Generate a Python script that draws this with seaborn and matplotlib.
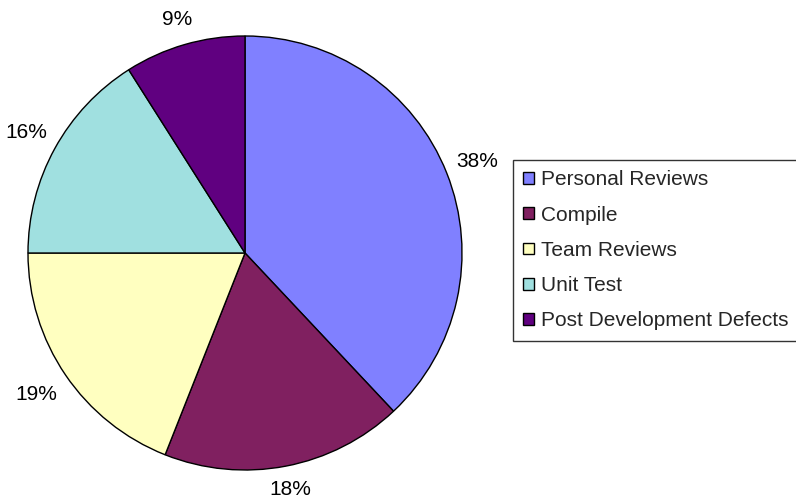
import numpy as np
import matplotlib
matplotlib.use("Agg")
import matplotlib.pyplot as plt
import seaborn as sns
from matplotlib.patches import Patch

# data
categories = ["Personal Reviews", "Compile", "Team Reviews", "Unit Test", "Post Development Defects"]
shares = [38, 18, 19, 16, 9]
colors = ["#8080FF", "#802060", "#FFFFC0", "#A0E0E0", "#600080"]
# how far out each percent label sits (in pie radii)
label_dist = [1.15, 1.11, 1.16, 1.15, 1.12]

sns.set_style("white")
plt.rcParams['font.family'] = ['Liberation Sans', 'DejaVu Sans']

W, H = 796, 501
fig = plt.figure(figsize=(W / 100, H / 100), dpi=100)

# pie placed by pixel geometry: centre (245, 253), radius 217
cx, cy, r = 245, 253, 217
ax = fig.add_axes([(cx - r) / W, (H - cy - r) / H, 2 * r / W, 2 * r / H])

wedges, _ = ax.pie(
    shares,
    colors=colors,
    startangle=90,
    counterclock=False,
    wedgeprops=dict(edgecolor="black", linewidth=1.0),
)
for w, v, d in zip(wedges, shares, label_dist):
    ang = np.deg2rad((w.theta1 + w.theta2) / 2)
    ax.text(d * np.cos(ang), d * np.sin(ang), f"{v}%", ha="center", va="center",
            fontsize=15, color="black")
ax.set_xlim(-1, 1)
ax.set_ylim(-1, 1)
ax.set_aspect("equal")
ax.axis("off")

handles = [Patch(facecolor=c, edgecolor="black", linewidth=1.0) for c in colors]
leg = fig.legend(
    handles, categories,
    loc="upper left",
    bbox_to_anchor=(513 / W, 1 - 160 / H),
    borderaxespad=0,
    fontsize=15,
    frameon=True,
    fancybox=False,
    handlelength=0.5,
    handleheight=0.5,
    handletextpad=0.35,
    labelspacing=0.78,
    borderpad=0.5,
)
leg.get_frame().set_edgecolor("black")
leg.get_frame().set_linewidth(1.0)

fig.savefig("out.png", dpi=100, facecolor="white")
